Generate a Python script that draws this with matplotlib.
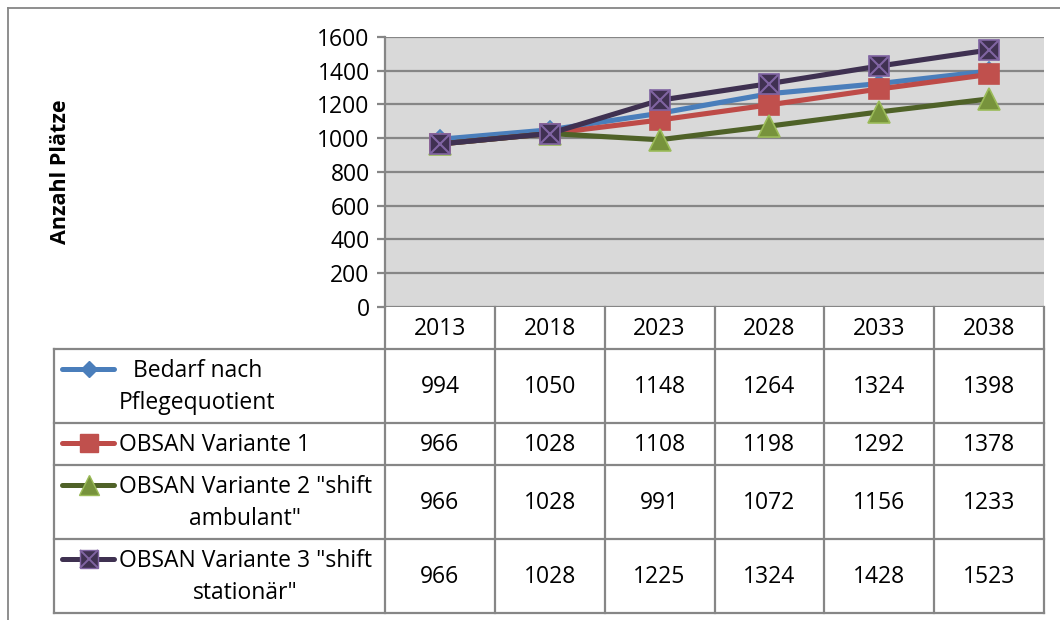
import matplotlib
matplotlib.use("Agg")
import matplotlib.pyplot as plt
from matplotlib.lines import Line2D

plt.rcParams['font.family'] = ['Open Sans', 'DejaVu Sans']

# data
years = ['2013', '2018', '2023', '2028', '2033', '2038']
bedarf = [994, 1050, 1148, 1264, 1324, 1398]
variante1 = [966, 1028, 1108, 1198, 1292, 1378]
variante2 = [966, 1028, 991, 1072, 1156, 1233]
variante3 = [966, 1028, 1225, 1324, 1428, 1523]
series_labels = ['Bedarf nach\nPflegequotient', 'OBSAN Variante 1',
                 'OBSAN Variante 2 "shift\nambulant"',
                 'OBSAN Variante 3 "shift\nstationär"']
y_ticks = [0, 200, 400, 600, 800, 1000, 1200, 1400, 1600]

W, H = 1060, 620
grid_col = '#868686'
fs = 16.5

styles = [
    dict(color='#4A7EBB', marker='D', ms=9, mfc='#4A7EBB', mec='#4A7EBB'),
    dict(color='#BE4B48', marker='s', ms=14.5, mfc='#C0504D', mec='#C0504D'),
    dict(color='#4F6228', marker='^', ms=16.5, mfc='#77933C', mec='#9BBB59'),
    dict(color='#3F3151', marker='s', ms=15, mfc='#403152', mec='#8064A2'),
]
all_series = [bedarf, variante1, variante2, variante3]

fig = plt.figure(figsize=(W / 100, H / 100), dpi=100)

# plot area in pixel coordinates
px_l, px_r, px_t, px_b = 385, 1044, 37, 307
ax = fig.add_axes([px_l / W, 1 - px_b / H, (px_r - px_l) / W, (px_b - px_t) / H])
ax.set_facecolor('#D9D9D9')
ax.set_xlim(-0.5, len(years) - 0.5)
ax.set_ylim(0, 1600)
ax.set_yticks(y_ticks)
ax.set_yticklabels([str(t) for t in y_ticks], fontsize=fs)
ax.set_xticks([])
ax.grid(axis='y', color=grid_col, lw=1.6)
ax.set_axisbelow(True)
for s in ['top', 'right', 'bottom']:
    ax.spines[s].set_visible(False)
ax.spines['left'].set_color(grid_col)
ax.spines['left'].set_linewidth(1.6)
ax.tick_params(axis='y', length=6, width=1.6, color=grid_col, pad=5)

xs = list(range(len(years)))
for vals, st in zip(all_series, styles):
    ax.plot(xs, vals, color=st['color'], lw=3.7, marker=st['marker'],
            ms=st['ms'], mfc=st['mfc'], mec=st['mec'], mew=1.2,
            solid_capstyle='round', zorder=3)
    if st is styles[3]:
        ax.plot(xs, vals, ls='none', marker='x', ms=st['ms'] * 0.95,
                mec='#8064A2', mew=1.5, zorder=4)

# overlay in pixel coordinates for the data table and the frame
ov = fig.add_axes([0, 0, 1, 1], facecolor='none')
ov.set_xlim(0, W)
ov.set_ylim(H, 0)
ov.axis('off')

ov.text(61, (px_t + px_b) / 2, 'Anzahl Plätze', rotation=90,
        ha='center', va='center', fontsize=15.5, fontweight='bold')

# frame (top and left)
ov.plot([8, W], [8, 8], color=grid_col, lw=1.3)
ov.plot([8, 8], [8, H], color=grid_col, lw=1.3)

col_w = (px_r - px_l) / len(years)
col_edges = [px_l + i * col_w for i in range(len(years) + 1)]
row_edges = [px_b, 349, 423, 465, 539, 613]
tab_left = 54
lw_t = 1.6

for x in col_edges:
    ov.plot([x, x], [row_edges[0], row_edges[-1]], color=grid_col, lw=lw_t)
for y in row_edges[1:]:
    ov.plot([tab_left, px_r], [y, y], color=grid_col, lw=lw_t)
ov.plot([tab_left, tab_left], [row_edges[1], row_edges[-1]], color=grid_col, lw=lw_t)

for i, yr in enumerate(years):
    ov.text((col_edges[i] + col_edges[i + 1]) / 2, (row_edges[0] + row_edges[1]) / 2 + 1,
            yr, ha='center', va='center', fontsize=fs)

for r, (vals, lab, st) in enumerate(zip(all_series, series_labels, styles)):
    yc = (row_edges[r + 1] + row_edges[r + 2]) / 2
    for i, v in enumerate(vals):
        ov.text((col_edges[i] + col_edges[i + 1]) / 2, yc + 1, str(v),
                ha='center', va='center', fontsize=fs)
    ky = row_edges[r + 1] + 20
    ov.add_line(Line2D([62, 114], [ky, ky], color=st['color'], lw=3.6,
                       solid_capstyle='round'))
    ov.plot([88.5], [ky], marker=st['marker'], ms=st['ms'] * 0.9,
            mfc=st['mfc'], mec=st['mec'], mew=1.0, ls='none')
    if r == 3:
        ov.plot([88.5], [ky], marker='x', ms=st['ms'] * 0.85, mec='#8064A2',
                mew=1.4, ls='none')
    ov.text(119, yc + 1, lab, ha='left', va='center', multialignment='center',
            fontsize=fs, linespacing=1.42)

fig.savefig('out.png', dpi=100)
